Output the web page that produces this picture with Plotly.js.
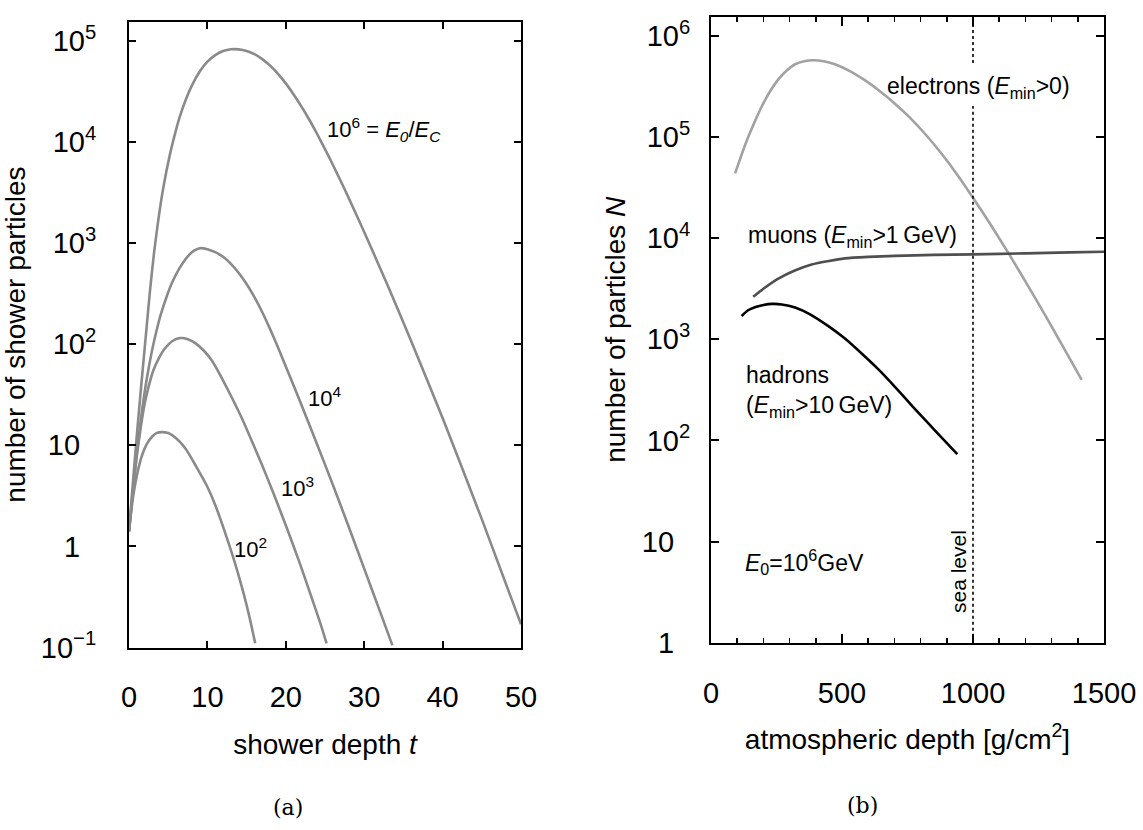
<!DOCTYPE html>
<html>
<head>
<meta charset="utf-8">
<script src="https://cdn.plot.ly/plotly-3.0.1.min.js"></script>
<style>
html,body{margin:0;padding:0;background:#fff;}
#chart{width:1143px;height:830px;}
</style>
</head>
<body>
<div id="chart"></div>
<script>
// ---------- panel (a): longitudinal shower profiles (E0/Ec = 10^2, 10^3, 10^4, 10^6) ----------
const t_E2 = [0, 0.5, 1.0, 1.5, 2.0, 2.5, 3.0, 3.5, 4.17, 5.0, 5.5, 6.5, 7.36, 8.5, 9.9, 11, 12.46, 13.5, 14.6, 15.4, 16.1];
const n_E2 = [1.41, 3.02, 5.01, 7.24, 9.33, 11.0, 12.3, 13.2, 13.5, 13.2, 12.6, 10.8, 8.91, 6.31, 4.03, 2.57, 1.23, 0.692, 0.347, 0.195, 0.110];

const t_E3 = [0, 0.5, 1.0, 1.5, 2.0, 2.5, 3.1, 3.8, 4.5, 5.5, 6.5, 7.5, 8.5, 9.5, 10.5, 11.6, 13, 14.5, 15.9, 17, 18.4, 20, 21.8, 23, 24.4, 25.2];
const n_E3 = [1.41, 3.55, 7.94, 15.1, 25.7, 38.0, 55.0, 72.4, 89.1, 107, 115, 112, 102, 87.1, 70.0, 50.1, 30.9, 17.8, 10.0, 6.31, 3.39, 1.62, 0.676, 0.363, 0.174, 0.110];

const t_E4 = [0, 0.5, 1.0, 1.5, 2.0, 2.5, 3.0, 3.5, 4.0, 4.8, 5.5, 6.5, 7.5, 8.3, 9.06, 10, 11, 12, 13, 14, 15, 16, 17, 18, 19, 20, 22, 24, 26, 28, 30, 32, 33.6];
const n_E4 = [1.41, 3.55, 8.32, 17.8, 33.9, 57.5, 91.2, 135, 191, 295, 407, 575, 741, 841, 891, 871, 813, 733, 624, 507, 394, 292, 207, 141, 93.3, 60.3, 25.1, 10.2, 4.07, 1.58, 0.603, 0.229, 0.105];

const t_E6 = [0, 0.5, 1.0, 1.5, 2.0, 2.25, 2.68, 3.19, 3.74, 4.38, 5.23, 6.0, 6.5, 7.25, 8.0, 9.0, 10, 11, 12, 13, 14, 15, 16, 17, 18, 19, 20, 21, 22, 23, 24, 25, 26, 27, 28, 30, 33, 36, 40, 45, 50];
const n_E6 = [1.41, 4.27, 12.6, 34.7, 91.2, 148, 339, 794, 1700, 3550, 7590, 13200, 18000, 26300, 35900, 49500, 62400, 72400, 79400, 82800, 82400, 79400, 74100, 66100, 56900, 47300, 38000, 29500, 22400, 16600, 12000, 8510, 5960, 4120, 2820, 1290, 380, 107, 18.6, 1.86, 0.17];

const tTicksA = [0, 10, 20, 30, 40, 50];
const nTicksA = [0.1, 1, 10, 100, 1000, 10000, 100000];
const nTickTextA = ["10<sup>\u22121</sup>", "1\u00a0\u00a0", "10\u00a0\u00a0", "10<sup>2</sup>", "10<sup>3</sup>", "10<sup>4</sup>", "10<sup>5</sup>"];

// ---------- panel (b): particle numbers in an air shower, E0 = 10^6 GeV ----------
const depth_electrons = [92, 120, 142, 170, 193, 225, 257, 290, 321, 355, 390, 430, 473, 530, 587, 640, 700, 760, 820, 878, 940, 1000, 1070, 1140, 1210, 1277, 1350, 1415];
const n_electrons = [43650, 70790, 100000, 147900, 199500, 281800, 371500, 457100, 524800, 562300, 575400, 562300, 523600, 448700, 364800, 290400, 216300, 154900, 105400, 69500, 42460, 25120, 13270, 6792, 3381, 1702, 792, 398];

const depth_muons = [161, 200, 257, 320, 384, 450, 511, 600, 702, 850, 1000, 1200, 1370, 1500];
const n_muons = [2630, 3160, 3980, 4790, 5500, 5960, 6310, 6530, 6680, 6840, 6920, 7080, 7240, 7330];

const depth_hadrons = [117, 140, 170, 200, 235, 270, 321, 380, 448, 510, 575, 640, 702, 770, 829, 885, 940];
const n_hadrons = [1698, 1928, 2089, 2188, 2239, 2213, 2065, 1758, 1349, 1023, 724, 501, 339, 216, 148, 103.5, 73.3];

const seaLevelDepth = 1000;
const nTicksB = [1, 10, 100, 1000, 10000, 100000, 1000000];
const nTickTextB = ["1\u00a0\u00a0", "10\u00a0\u00a0", "10<sup>2</sup>", "10<sup>3</sup>", "10<sup>4</sup>", "10<sup>5</sup>", "10<sup>6</sup>"];

// ---------- styling ----------
const FONT = "'Liberation Sans', Arial, sans-serif";
const SERIF = "'DejaVu Serif', 'Liberation Serif', serif";
const W = 1143, H = 830;
const px = v => v / W;
const py = v => 1 - v / H;

const curveGrey = '#8a8a8a';
function curve(x, y, color, xa, ya) {
  return {x: x, y: y, xaxis: xa, yaxis: ya, mode: 'lines', type: 'scatter',
    line: {color: color, width: 2.6, shape: 'spline', smoothing: 0.6},
    showlegend: false, hoverinfo: 'skip'};
}

const traces = [
  curve(t_E2, n_E2, curveGrey, 'x', 'y'),
  curve(t_E3, n_E3, curveGrey, 'x', 'y'),
  curve(t_E4, n_E4, curveGrey, 'x', 'y'),
  curve(t_E6, n_E6, curveGrey, 'x', 'y'),
  curve(depth_electrons, n_electrons, '#a2a2a2', 'x2', 'y2'),
  curve(depth_muons, n_muons, '#4f4f4f', 'x2', 'y2'),
  curve(depth_hadrons, n_hadrons, '#000000', 'x2', 'y2')
];

const axisCommon = {
  showline: true, linecolor: '#000', linewidth: 2, mirror: 'ticks',
  ticks: 'inside', tickcolor: '#000', tickwidth: 2,
  showgrid: false, zeroline: false, automargin: false,
  tickfont: {family: FONT, size: 29, color: '#000'}
};
const titleFont = {family: FONT, size: 28, color: '#000'};
const labelFont = {family: FONT, size: 23, color: '#000'};
const dotted = {color: '#000', width: 1.6, dash: 'dot'};

const layout = {
  width: W, height: H,
  margin: {l: 0, r: 0, t: 0, b: 0, pad: 0},
  paper_bgcolor: '#fff', plot_bgcolor: '#fff',
  font: {family: FONT, color: '#000'},
  showlegend: false,
  xaxis: Object.assign({}, axisCommon, {
    domain: [px(129), px(521)], anchor: 'y', range: [0, 50],
    tickmode: 'array', tickvals: tTicksA, ticklen: 7, ticklabelstandoff: 23,
    title: {text: 'shower depth <i>t</i>' + '\u00a0'.repeat(7), font: titleFont, standoff: 22}
  }),
  yaxis: Object.assign({}, axisCommon, {
    domain: [py(647.5), py(21.7)], anchor: 'x', type: 'log', range: [-1, 5.19],
    tickmode: 'array', tickvals: nTicksA, ticktext: nTickTextA, ticklen: 7, ticklabelstandoff: 25,
    title: {text: 'number of shower particles', font: titleFont, standoff: 14}
  }),
  xaxis2: Object.assign({}, axisCommon, {
    domain: [px(711), px(1104)], anchor: 'y2', range: [0, 1500],
    tickmode: 'linear', tick0: 0, dtick: 500, ticklen: 9, ticklabelstandoff: 23,
    minor: {dtick: 100, ticks: 'inside', ticklen: 5, tickwidth: 1.5, tickcolor: '#000', showgrid: false},
    title: {text: '\u00a0\u00a0atmospheric depth [g/cm<sup>2</sup>]', font: titleFont, standoff: 22}
  }),
  yaxis2: Object.assign({}, axisCommon, {
    domain: [py(642.7), py(16.7)], anchor: 'x2', type: 'log', range: [0, 6.19],
    tickmode: 'array', tickvals: nTicksB, ticktext: nTickTextB, ticklen: 8, ticklabelstandoff: 13,
    title: {text: 'number of particles <i>N</i>', font: titleFont, standoff: 8}
  }),
  shapes: [
    {type: 'line', xref: 'x2', yref: 'paper', x0: seaLevelDepth, x1: seaLevelDepth,
     y0: py(642.7), y1: py(106), line: dotted, layer: 'above'},
    {type: 'line', xref: 'x2', yref: 'paper', x0: seaLevelDepth, x1: seaLevelDepth,
     y0: py(63), y1: py(16.7), line: dotted, layer: 'above'}
  ],
  annotations: [
    {text: '10<sup>6</sup> = <i>E</i><sub><i>0</i></sub>/<i>E</i><sub><i>C</i></sub>', xref: 'paper', yref: 'paper',
     x: px(325), y: py(130), xanchor: 'left', yanchor: 'middle', showarrow: false, font: {family: FONT, size: 22, color: '#000'}},
    {text: '10<sup>4</sup>', xref: 'paper', yref: 'paper', x: px(306), y: py(397), xanchor: 'left', yanchor: 'middle', showarrow: false, font: {family: FONT, size: 22, color: '#000'}},
    {text: '10<sup>3</sup>', xref: 'paper', yref: 'paper', x: px(279), y: py(487), xanchor: 'left', yanchor: 'middle', showarrow: false, font: {family: FONT, size: 22, color: '#000'}},
    {text: '10<sup>2</sup>', xref: 'paper', yref: 'paper', x: px(232), y: py(548), xanchor: 'left', yanchor: 'middle', showarrow: false, font: {family: FONT, size: 22, color: '#000'}},
    {text: 'electrons (<i>E</i><sub>min</sub>&gt;0)', xref: 'paper', yref: 'paper', x: px(978), y: py(88), xanchor: 'center', yanchor: 'middle',
     showarrow: false, font: labelFont},
    {text: 'muons (<i>E</i><sub>min</sub>&gt;1\u2009GeV)', xref: 'paper', yref: 'paper', x: px(746), y: py(236), xanchor: 'left', yanchor: 'middle', showarrow: false, font: labelFont},
    {text: 'hadrons<br>(<i>E</i><sub>min</sub>&gt;10\u2009GeV)', xref: 'paper', yref: 'paper', x: px(744), y: py(391), xanchor: 'left', yanchor: 'middle', align: 'left', showarrow: false, font: labelFont},
    {text: '<i>E</i><sub>0</sub>=10<sup>6</sup>GeV', xref: 'paper', yref: 'paper', x: px(743), y: py(562), xanchor: 'left', yanchor: 'middle', showarrow: false, font: labelFont},
    {text: 'sea level', xref: 'paper', yref: 'paper', x: px(958), y: py(572), xanchor: 'center', yanchor: 'middle', textangle: -90, showarrow: false, font: {family: FONT, size: 21, color: '#000'}},
    {text: '(a)', xref: 'paper', yref: 'paper', x: px(288), y: py(807), xanchor: 'center', yanchor: 'middle', showarrow: false, font: {family: SERIF, size: 22, color: '#000'}},
    {text: '(b)', xref: 'paper', yref: 'paper', x: px(862), y: py(805), xanchor: 'center', yanchor: 'middle', showarrow: false, font: {family: SERIF, size: 22, color: '#000'}}
  ]
};

Plotly.newPlot('chart', traces, layout, {staticPlot: true, displayModeBar: false});
</script>
</body>
</html>
